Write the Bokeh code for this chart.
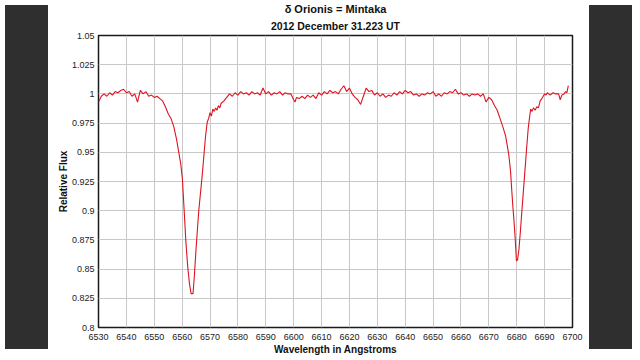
from bokeh.plotting import figure
from bokeh.models import Title, FixedTicker, CustomJSTickFormatter, Div
from bokeh.layouts import row
from bokeh.embed import file_html
from bokeh.resources import INLINE

title_text = "δ Orionis = Mintaka"
subtitle_text = "2012 December 31.223 UT"
x_label = "Wavelength in Angstroms"
y_label = "Relative Flux"

x_ticks = [6530, 6540, 6550, 6560, 6570, 6580, 6590, 6600, 6610, 6620,
           6630, 6640, 6650, 6660, 6670, 6680, 6690, 6700]
y_ticks = [0.8, 0.825, 0.85, 0.875, 0.9, 0.925, 0.95, 0.975, 1.0, 1.025, 1.05]

wavelength = [
    6530, 6531, 6532, 6533, 6534, 6535, 6536, 6537, 6538, 6539,
    6540, 6541, 6542, 6543, 6544, 6545, 6546, 6547, 6548, 6549,
    6550, 6551, 6552, 6553, 6554, 6555, 6556, 6557, 6558, 6558.8,
    6559.5, 6560.1, 6560.7, 6561.3, 6562.0, 6562.6, 6563.2, 6563.9, 6564.4, 6564.9,
    6565.5, 6566.0, 6566.7, 6567.3, 6567.9, 6568.4, 6569.0, 6569.5, 6570.0, 6570.5,
    6571.0, 6571.5, 6572.0, 6572.5, 6573.0, 6573.5, 6574.0, 6575, 6576, 6577,
    6578, 6579, 6580, 6581, 6582, 6583, 6584, 6585, 6586, 6587,
    6588, 6589, 6590, 6591, 6592, 6593, 6594, 6595, 6596, 6597,
    6598, 6599, 6600, 6600.5, 6601, 6602, 6603, 6604, 6605, 6606,
    6607, 6608, 6609, 6610, 6611, 6612, 6613, 6614, 6615, 6616,
    6617, 6618, 6619, 6620, 6621, 6622, 6623, 6624, 6625, 6626,
    6627, 6628, 6629, 6630, 6631, 6632, 6633, 6634, 6635, 6636,
    6637, 6638, 6639, 6640, 6641, 6642, 6643, 6644, 6645, 6646,
    6647, 6648, 6649, 6650, 6651, 6652, 6653, 6654, 6655, 6656,
    6657, 6658, 6659, 6660, 6661, 6662, 6663, 6664, 6665, 6666,
    6667, 6668, 6669, 6670, 6671, 6672, 6673, 6674, 6675, 6676,
    6676.6, 6677.2, 6677.8, 6678.2, 6678.6, 6679.0, 6679.4, 6679.9, 6680.3, 6680.8,
    6681.3, 6681.7, 6682.3, 6682.9, 6683.5, 6684.1, 6684.6, 6685.0, 6685.5, 6686.0,
    6686.6, 6687.2, 6687.8, 6688.4, 6689.0, 6689.5, 6690.0, 6690.5, 6691, 6692,
    6693, 6694, 6695, 6695.6, 6696.2, 6697.0, 6697.5, 6698.0, 6698.5,
]

flux = [
    0.993, 0.998, 1.000, 0.998, 1.001, 0.999, 1.002, 1.001, 1.003, 1.004,
    1.001, 1.002, 0.998, 1.000, 0.993, 1.003, 1.000, 1.002, 0.998, 0.999,
    0.997, 0.998, 0.996, 0.994, 0.989, 0.983, 0.979, 0.972, 0.961, 0.950,
    0.940, 0.927, 0.901, 0.875, 0.852, 0.838, 0.829, 0.829, 0.845, 0.864,
    0.885, 0.901, 0.918, 0.933, 0.950, 0.964, 0.976, 0.979, 0.984, 0.981,
    0.987, 0.985, 0.988, 0.986, 0.990, 0.988, 0.992, 0.994, 0.997, 1.000,
    0.998, 1.001, 0.999, 1.002, 1.000, 1.001, 0.999, 1.002, 1.000, 1.001,
    0.999, 1.005, 1.000, 1.002, 0.999, 1.001, 1.000, 1.002, 0.999, 1.001,
    1.000, 1.000, 0.995, 0.993, 0.997, 0.996, 0.998, 0.996, 0.999, 0.997,
    0.999, 0.996, 1.001, 0.999, 1.002, 1.000, 1.003, 1.001, 1.002, 1.000,
    1.004, 1.007, 1.002, 1.005, 1.000, 0.997, 0.995, 0.991, 0.998, 1.005,
    1.002, 1.003, 0.999, 1.001, 0.998, 1.000, 0.997, 0.999, 0.998, 1.001,
    0.999, 1.002, 1.000, 1.003, 1.001, 1.002, 0.999, 1.000, 0.998, 1.000,
    0.999, 1.001, 1.000, 1.002, 0.998, 1.000, 0.998, 1.001, 1.000, 1.002,
    1.001, 1.004, 1.000, 1.001, 0.999, 1.000, 0.998, 1.000, 0.999, 1.000,
    0.998, 1.000, 0.993, 0.997, 0.995, 0.990, 0.986, 0.979, 0.972, 0.964,
    0.956, 0.947, 0.933, 0.918, 0.904, 0.892, 0.878, 0.857, 0.858, 0.867,
    0.882, 0.895, 0.914, 0.933, 0.952, 0.970, 0.980, 0.987, 0.985, 0.988,
    0.986, 0.989, 0.988, 0.994, 0.996, 0.998, 1.000, 0.999, 1.001, 0.999,
    1.001, 1.000, 1.000, 0.995, 0.999, 1.000, 1.002, 1.001, 1.007,
]

FONT = "Liberation Sans"

p = figure(frame_width=474, frame_height=292, x_range=(6530, 6700),
           y_range=(0.8, 1.05),
           output_backend="svg", toolbar_location=None, title=None,
           min_border_left=45, min_border_right=12, min_border_top=0,
           min_border_bottom=0, background_fill_color="white",
           border_fill_color="white")

p.line(wavelength, flux, line_color="#dc1420", line_width=1.1)

p.add_layout(Title(text=subtitle_text, align="center", text_font=FONT,
                   text_font_size="10.5px", text_font_style="bold",
                   text_color="#111111", standoff=7, offset=0), "above")
p.add_layout(Title(text=title_text, align="center", text_font=FONT,
                   text_font_size="11px", text_font_style="bold",
                   text_color="#111111", standoff=0, offset=0), "above")

p.xaxis.ticker = FixedTicker(ticks=x_ticks)
p.yaxis.ticker = FixedTicker(ticks=y_ticks)
p.yaxis.formatter = CustomJSTickFormatter(
    code="return String(parseFloat(tick.toFixed(3)));")

for ax in (p.xaxis[0], p.yaxis[0]):
    ax.axis_line_color = None
    ax.major_tick_out = 0
    ax.major_tick_in = 0
    ax.minor_tick_line_color = None
    ax.major_label_text_font = FONT
    ax.major_label_text_font_size = "9px"
    ax.major_label_text_color = "#222222"
    ax.axis_label_text_font = FONT
    ax.axis_label_text_font_size = "10px"
    ax.axis_label_text_font_style = "bold"
    ax.axis_label_text_color = "#111111"

p.xaxis.axis_label = x_label
p.yaxis.axis_label = y_label
p.xaxis.major_label_standoff = 6
p.xaxis.axis_label_standoff = 1
p.yaxis.major_label_standoff = 4
p.yaxis.axis_label_standoff = 0

p.xgrid.grid_line_color = "#c8c8c8"
p.ygrid.grid_line_color = "#c8c8c8"
p.xgrid.grid_line_width = 1
p.ygrid.grid_line_width = 1

p.outline_line_color = "#1a1a1a"
p.outline_line_width = 1.5
p.outline_line_alpha = 1.0

left_bar = Div(width=43, height=344, styles={"background-color": "#2f2f2f"})
right_bar = Div(width=43, height=344, styles={"background-color": "#2f2f2f"})

layout = row(left_bar, p, right_bar)

open("out.html", "w").write(file_html(layout, INLINE))
